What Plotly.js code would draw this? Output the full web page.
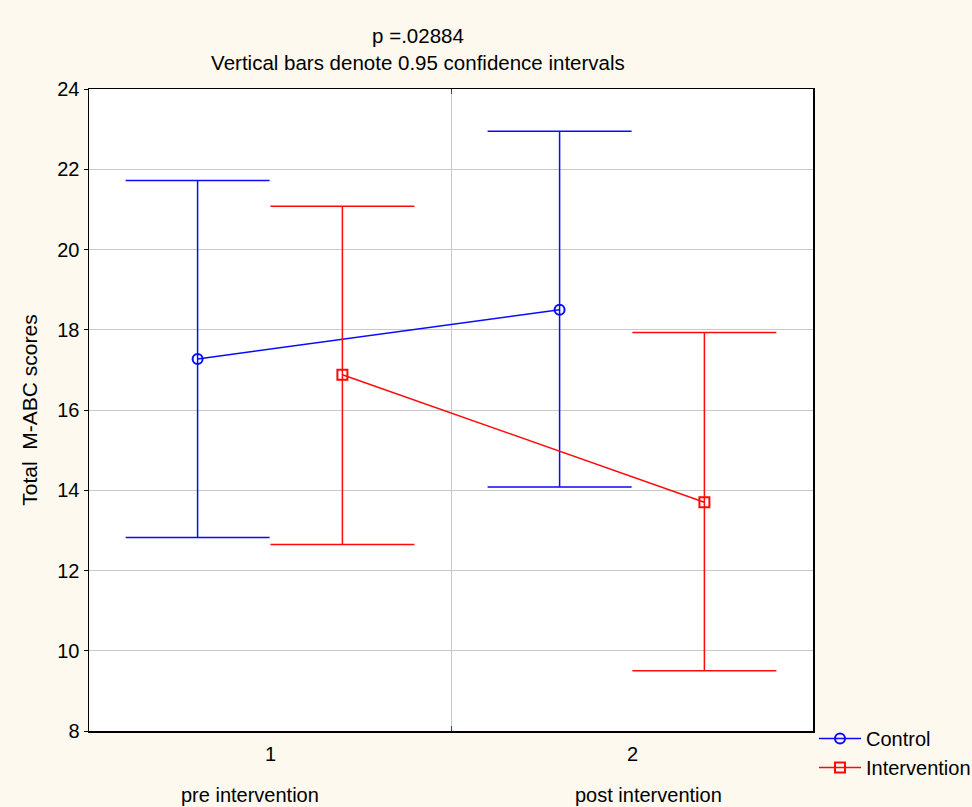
<!DOCTYPE html>
<html>
<head>
<meta charset="utf-8">
<script src="https://cdn.plot.ly/plotly-3.0.1.min.js"></script>
<style>
  html, body { margin: 0; padding: 0; background: #FDF9EE; }
  #chart { width: 972px; height: 807px; }
</style>
</head>
<body>
<div id="chart"></div>
<script>
// ---- data ----
const categories = ['pre intervention', 'post intervention'];
const tickLabels = ['1', '2'];
const groups = ['Control', 'Intervention'];

const controlMean = [17.27, 18.50];
const controlUpper = [21.72, 22.95];
const controlLower = [12.82, 14.08];

const interventionMean = [16.88, 13.70];
const interventionUpper = [21.08, 17.93];
const interventionLower = [12.65, 9.50];

const pValueText = 'p =.02884';
const subtitleText = 'Vertical bars denote 0.95 confidence intervals';
const yTitle = 'Total  M-ABC scores';

// ---- styling ----
const FONT = '"Liberation Sans", Arial, sans-serif';
const catPos = categories.map((c, i) => i + 1);
const groupOffset = [-0.2, 0.2];
const colors = ['#0A0AFF', '#FF0A0A'];
const symbols = ['circle-open', 'square-open'];

function makeTrace(gi, mean, upper, lower) {
  return {
    type: 'scatter',
    mode: 'lines+markers',
    name: groups[gi],
    x: catPos.map(p => p + groupOffset[gi]),
    y: mean,
    line: { color: colors[gi], width: 1.5 },
    marker: { symbol: symbols[gi], size: 10, color: colors[gi], line: { width: 2, color: colors[gi] } },
    error_y: {
      type: 'data',
      symmetric: false,
      array: upper.map((u, i) => u - mean[i]),
      arrayminus: lower.map((l, i) => mean[i] - l),
      color: colors[gi],
      thickness: 1.5,
      width: 72
    },
    hoverinfo: 'x+y'
  };
}

const traces = [
  makeTrace(0, controlMean, controlUpper, controlLower),
  makeTrace(1, interventionMean, interventionUpper, interventionLower)
];

const annotations = [];
const nameShift = [-20, 16];
catPos.forEach((p, i) => {
  annotations.push({
    x: p, xref: 'x', y: 0, yref: 'paper', yanchor: 'middle',
    yshift: -23, text: tickLabels[i], showarrow: false,
    font: { family: FONT, size: 20, color: '#000' }
  });
  annotations.push({
    x: p, xref: 'x', y: 0, yref: 'paper', yanchor: 'middle',
    yshift: -64, xshift: nameShift[i], text: categories[i], showarrow: false,
    font: { family: FONT, size: 20, color: '#000' }
  });
});

const layout = {
  width: 972,
  height: 807,
  paper_bgcolor: '#FDF9EE',
  plot_bgcolor: '#FFFFFF',
  font: { family: FONT, size: 20, color: '#000' },
  margin: { l: 89, r: 159, t: 89, b: 76, pad: 0, autoexpand: false },
  title: {
    text: pValueText + '<br>' + subtitleText,
    x: 0.43, xref: 'container', xanchor: 'center',
    y: 1 - 43 / 807, yref: 'container', yanchor: 'middle',
    font: { family: FONT, size: 20.5, color: '#000' }
  },
  xaxis: {
    range: [0.5, 2.5],
    tickmode: 'array',
    tickvals: [1.5],
    showticklabels: false,
    ticks: 'inside',
    ticklen: 5,
    tickcolor: '#444',
    showgrid: true,
    gridcolor: '#C8C8C8',
    gridwidth: 1,
    zeroline: false,
    showline: true,
    linecolor: '#000',
    linewidth: 1.5,
    mirror: 'ticks',
    fixedrange: true
  },
  yaxis: {
    range: [8, 24],
    tickmode: 'linear',
    tick0: 8,
    dtick: 2,
    ticks: 'outside',
    ticklen: 4,
    tickcolor: '#000',
    showgrid: true,
    gridcolor: '#C8C8C8',
    gridwidth: 1,
    zeroline: false,
    showline: true,
    linecolor: '#000',
    linewidth: 1.5,
    mirror: true,
    tickfont: { family: FONT, size: 20, color: '#000' },
    title: { text: yTitle, font: { family: FONT, size: 21, color: '#000' }, standoff: 14 },
    fixedrange: true
  },
  showlegend: true,
  legend: {
    xref: 'container', x: 814 / 972, xanchor: 'left',
    yref: 'container', y: 1 - 719 / 807, yanchor: 'top',
    bgcolor: 'rgba(0,0,0,0)',
    borderwidth: 0,
    font: { family: FONT, size: 20, color: '#000' },
    tracegroupgap: 0,
    itemwidth: 42
  },
  annotations: annotations
};

Plotly.newPlot('chart', traces, layout, { displayModeBar: false, staticPlot: true });
</script>
</body>
</html>
